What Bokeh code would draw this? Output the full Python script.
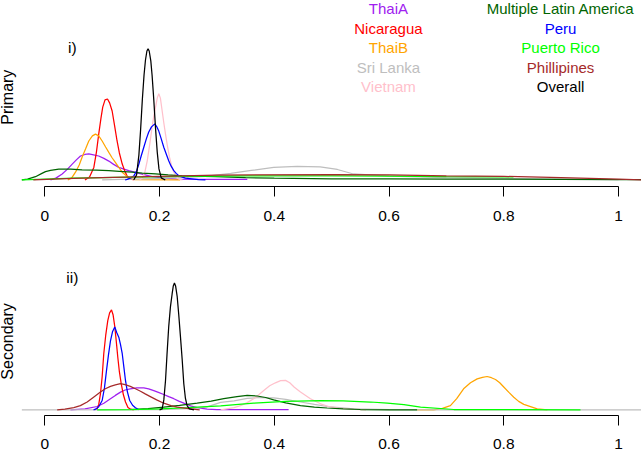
from math import pi
from bokeh.plotting import figure
from bokeh.layouts import column
from bokeh.models import Label, FixedTicker, Range1d
from bokeh.embed import file_html
from bokeh.resources import INLINE

# ---------------- data (density curves) ----------------
names = ["ThaiA", "Nicaragua", "ThaiB", "Sri Lanka", "Vietnam",
         "Multiple Latin America", "Peru", "Puerto Rico", "Phillipines", "Overall"]
colors = ["#A020F0", "#FF0000", "#FFA500", "#BEBEBE", "#FFC0CB",
          "#006400", "#0000FF", "#00FF00", "#A52A2A", "#000000"]

tick_values = [0, 0.2, 0.4, 0.6, 0.8, 1]
tick_labels = ["0", "0.2", "0.4", "0.6", "0.8", "1"]
panel_tags = ["i)", "ii)"]
panel_titles = ["Primary", "Secondary"]

# Primary panel
pri_thaiA_x = [0.010, 0.020, 0.0303, 0.040, 0.0478, 0.055, 0.0622, 0.070, 0.0767, 0.085, 0.094, 0.103, 0.1116, 0.120, 0.129, 0.138, 0.1464, 0.155, 0.164, 0.175, 0.187, 0.2046, 0.23, 0.27, 0.353]
pri_thaiA_y = [0, 0.7, 2, 3.7, 5.3, 6.7, 8, 8.5, 8.7, 8.4, 8, 7.2, 6.3, 5.2, 4.2, 3.6, 3.1, 2.7, 2.2, 1.7, 1.1, 0.7, 0.3, 0.2, 0.2]
pri_nica_x = [0.070, 0.078, 0.0855, 0.090, 0.094, 0.098, 0.101, 0.105, 0.1093, 0.113, 0.1174, 0.122, 0.126, 0.130, 0.135, 0.140, 0.1436, 0.148, 0.155]
pri_nica_y = [0, 1, 4.2, 9.3, 15.3, 20.7, 24.3, 26.7, 27, 25.7, 23, 17.7, 13, 9, 5.3, 2.7, 1.3, 0.5, 0]
pri_thaiB_x = [0.040, 0.047, 0.0535, 0.060, 0.065, 0.071, 0.0767, 0.083, 0.0884, 0.094, 0.100, 0.106, 0.1116, 0.117, 0.123, 0.129, 0.135, 0.146, 0.158, 0.236]
pri_thaiB_y = [0, 0.7, 2.6, 5, 7.6, 10.3, 13, 14.7, 15.3, 14.7, 13, 11, 9.2, 7.5, 5.9, 4.2, 2.6, 0.7, 0.1, 0]
pri_sri_x = [0.10, 0.2, 0.28, 0.324, 0.36, 0.399, 0.44, 0.48, 0.51, 0.538, 0.6, 0.7, 0.8, 0.9, 1.0]
pri_sri_y = [0, 0.5, 1.2, 2.2, 3.2, 4.2, 4.5, 4.4, 3.5, 2, 1.3, 0.8, 0.5, 0.3, 0.1]
pri_viet_x = [0.165, 0.170, 0.1745, 0.1785, 0.183, 0.187, 0.190, 0.193, 0.196, 0.1987, 0.2015, 0.2046, 0.2075, 0.2104, 0.214, 0.2174, 0.221, 0.2249, 0.229, 0.2336, 0.24]
pri_viet_y = [0, 0.7, 2.7, 6.3, 12, 17.6, 21.3, 24.2, 27.3, 28.8, 27.3, 23, 19, 15.3, 11, 7.6, 4.7, 2.6, 1.2, 0.3, 0]
pri_mla_x = [-0.04, -0.03, -0.0162, -0.005, 0.0012, 0.010, 0.0244, 0.045, 0.065, 0.09, 0.1116, 0.13, 0.1523, 0.17, 0.193, 0.215, 0.2395, 0.2975, 0.35, 0.4, 0.5, 0.6, 0.7, 0.8, 0.9, 1.0, 1.04]
pri_mla_y = [0, 0.3, 1.1, 2.2, 2.8, 3.2, 3.6, 3.6, 3.4, 3.3, 3.1, 2.9, 2.6, 2.3, 2, 1.7, 1.4, 1.1, 0.8, 0.6, 0.4, 0.4, 0.3, 0.3, 0.2, 0.1, 0.1]
pri_peru_x = [0.140, 0.1436, 0.150, 0.155, 0.160, 0.164, 0.168, 0.1726, 0.177, 0.181, 0.186, 0.1918, 0.195, 0.1987, 0.203, 0.2074, 0.212, 0.216, 0.220, 0.2249, 0.229, 0.2336, 0.245, 0.268, 0.28]
pri_peru_y = [0, 0.2, 0.7, 1.3, 3, 5.3, 8, 10.9, 13.7, 15.9, 17.7, 18.7, 17.8, 16.3, 13.7, 10.9, 8.5, 6.4, 4.7, 3.1, 2.2, 1.4, 0.6, 0.1, 0]
pri_pr_x = [-0.04, 0.0, 0.05, 0.123, 0.24, 0.35, 0.5, 0.6, 0.7, 0.817]
pri_pr_y = [0, 0.3, 0.6, 0.9, 1.2, 1.4, 1.4, 1.3, 1.1, 1.0]
pri_phil_x = [-0.02, 0.05, 0.1, 0.2, 0.3, 0.5, 0.6, 0.7, 0.8, 0.9, 1.0, 1.05]
pri_phil_y = [0, 0.5, 0.8, 1.2, 1.6, 1.8, 1.7, 1.4, 1.2, 0.8, 0.3, 0]
pri_all_x = [0.155, 0.160, 0.164, 0.167, 0.170, 0.173, 0.1755, 0.178, 0.180, 0.182, 0.1848, 0.187, 0.190, 0.193, 0.196, 0.199, 0.203, 0.21]
pri_all_y = [0, 1.7, 8.3, 16.7, 26.7, 35, 40, 43, 43.7, 43, 39.7, 35, 26.7, 17.3, 9.3, 3.7, 0.7, 0]

# Secondary panel
sec_thaiA_x = [0.0448, 0.07, 0.0913, 0.103, 0.1145, 0.123, 0.132, 0.140, 0.149, 0.16, 0.1726, 0.181, 0.19, 0.198, 0.2074, 0.216, 0.2249, 0.2335, 0.2423, 0.254, 0.2656, 0.283, 0.3, 0.425]
sec_thaiA_y = [0, 0.3, 1.1, 2.2, 3.7, 4.8, 5.9, 6.6, 7, 7.3, 7.3, 7, 6.4, 5.8, 5.1, 4.4, 3.7, 2.9, 2.2, 1.3, 0.7, 0.2, 0.1, 0.1]
sec_nica_x = [0.088, 0.0913, 0.094, 0.097, 0.100, 0.1028, 0.1063, 0.1098, 0.113, 0.1163, 0.119, 0.122, 0.1245, 0.1272, 0.130, 0.1332, 0.137, 0.1407, 0.145, 0.1494, 0.155]
sec_nica_y = [0, 0.3, 1.7, 5.3, 11, 18.7, 25, 29.7, 32.3, 33.3, 31.7, 27.7, 23, 17.6, 12.7, 8.7, 5, 2.6, 0.8, 0.2, 0]
sec_thaiB_x = [0.649, 0.678, 0.693, 0.707, 0.718, 0.730, 0.742, 0.7537, 0.763, 0.771, 0.7785, 0.7856, 0.793, 0.800, 0.809, 0.8175, 0.826, 0.835, 0.8583, 0.876]
sec_thaiB_y = [0, 0, 0.5, 1.4, 3.7, 7, 9, 10.3, 10.8, 11.1, 10.7, 10.1, 9, 7.6, 5.8, 4.2, 2.8, 1.8, 0.3, 0]
sec_sri_x = [-0.04, 0.2, 0.24, 0.26, 0.283, 0.3066, 0.33, 0.3528, 0.375, 0.399, 0.42, 0.4457, 0.47, 0.4922, 0.5386, 0.6, 0.712, 0.8, 1.04]
sec_sri_y = [0, 0.1, 0.3, 0.5, 1, 2.5, 3, 3.8, 4.1, 4, 3.5, 2.6, 1.8, 1.1, 0.3, 0.1, 0, 0, 0]
sec_viet_x = [0.3066, 0.33, 0.341, 0.352, 0.364, 0.373, 0.3817, 0.392, 0.402, 0.411, 0.4196, 0.427, 0.435, 0.4457, 0.463, 0.4806, 0.495, 0.5096, 0.53, 0.56]
sec_viet_y = [0, 0.7, 1.4, 2.3, 3.7, 5, 6.4, 8, 9, 9.7, 9.8, 9, 7.5, 5.9, 3.7, 2, 1.1, 0.6, 0.2, 0]
sec_mla_x = [0.149, 0.18, 0.2074, 0.235, 0.2656, 0.29, 0.312, 0.335, 0.3528, 0.37, 0.385, 0.399, 0.42, 0.4457, 0.47, 0.4922, 0.52, 0.55, 0.6, 0.649]
sec_mla_y = [0.1, 0.4, 0.9, 1.5, 2.2, 2.9, 3.7, 4.4, 4.8, 4.6, 4.1, 3.3, 2.3, 1.4, 0.9, 0.6, 0.3, 0.1, 0, 0]
sec_peru_x = [0.085, 0.0884, 0.094, 0.100, 0.104, 0.1075, 0.111, 0.1145, 0.118, 0.122, 0.1255, 0.129, 0.132, 0.135, 0.138, 0.1407, 0.144, 0.148, 0.153, 0.158, 0.164]
sec_peru_y = [0, 0.2, 1, 3.1, 7.3, 13, 18.3, 23, 26, 27.6, 25.7, 24.2, 21.7, 18.7, 14, 9.7, 6, 3.1, 1.5, 0.7, 0]
sec_pr_x = [0.0913, 0.15, 0.2, 0.25, 0.3066, 0.364, 0.42, 0.4806, 0.52, 0.5677, 0.597, 0.626, 0.655, 0.713, 0.8, 0.9338]
sec_pr_y = [0, 0.1, 0.3, 0.7, 1.3, 2.2, 2.8, 3.1, 3, 2.6, 2.2, 1.7, 0.9, 0.1, 0.05, 0]
sec_phil_x = [0.0216, 0.035, 0.0506, 0.062, 0.0739, 0.085, 0.097, 0.1055, 0.1145, 0.123, 0.132, 0.14, 0.149, 0.158, 0.1668, 0.175, 0.184, 0.195, 0.2074, 0.22, 0.2308, 0.254, 0.27]
sec_phil_y = [0, 0.2, 0.7, 1.4, 2.6, 4.2, 5.9, 7, 7.8, 8.3, 8.7, 8.4, 7.8, 7, 6.2, 5.3, 4.4, 3.3, 2.2, 1.4, 0.9, 0.3, 0]
sec_all_x = [0.200, 0.2046, 0.2075, 0.2104, 0.213, 0.216, 0.219, 0.222, 0.224, 0.226, 0.228, 0.2308, 0.2335, 0.2365, 0.2395, 0.2423, 0.245, 0.248, 0.252, 0.26]
sec_all_y = [0, 0.3, 3.3, 9.7, 18.3, 27.7, 34.3, 38.7, 41.3, 42.3, 41.3, 37.7, 31.7, 24.3, 16.7, 8.7, 4, 1.4, 0.3, 0]

primary = [(pri_thaiA_x, pri_thaiA_y), (pri_nica_x, pri_nica_y), (pri_thaiB_x, pri_thaiB_y),
           (pri_sri_x, pri_sri_y), (pri_viet_x, pri_viet_y), (pri_mla_x, pri_mla_y),
           (pri_peru_x, pri_peru_y), (pri_pr_x, pri_pr_y), (pri_phil_x, pri_phil_y),
           (pri_all_x, pri_all_y)]
secondary = [(sec_thaiA_x, sec_thaiA_y), (sec_nica_x, sec_nica_y), (sec_thaiB_x, sec_thaiB_y),
             (sec_sri_x, sec_sri_y), (sec_viet_x, sec_viet_y), (sec_mla_x, sec_mla_y),
             (sec_peru_x, sec_peru_y), (sec_pr_x, sec_pr_y), (sec_phil_x, sec_phil_y),
             (sec_all_x, sec_all_y)]

FONT = "Liberation Sans"
X0, X1 = -0.0772, 1.0401
LEGEND_ROWS = [57.0, 50.5, 44.0, 37.5, 31.0]
LEGEND_COLS = [0.599, 0.899]


def make_panel(curves, tag, title, title_y, height, y_lo, y_hi, border_bottom, standoff, legend):
    p = figure(width=641, height=height, x_range=Range1d(X0, X1), y_range=Range1d(y_lo, y_hi),
               output_backend="svg", toolbar_location=None, y_axis_location=None,
               min_border_left=0, min_border_right=0, min_border_top=0,
               min_border_bottom=border_bottom, background_fill_color="white",
               border_fill_color="white")
    p.outline_line_color = None
    p.grid.visible = False
    for (xs, ys), c in zip(curves, colors):
        p.line(xs, ys, line_color=c, line_width=1.25)
    ax = p.xaxis[0]
    ax.ticker = FixedTicker(ticks=tick_values)
    ax.major_label_overrides = {v: s for v, s in zip(tick_values, tick_labels)}
    ax.bounds = (0, 1)
    ax.axis_line_color = "black"
    ax.axis_line_width = 1
    ax.major_tick_line_color = "black"
    ax.major_tick_out = 10
    ax.major_tick_in = 0
    ax.minor_tick_line_color = None
    ax.major_label_standoff = standoff
    ax.major_label_text_font = FONT
    ax.major_label_text_font_size = "15.5px"
    ax.major_label_text_color = "black"

    p.add_layout(Label(x=0.048, y=44.1, text=tag, text_font=FONT, text_font_size="15.5px",
                       text_align="center", text_baseline="middle", text_color="black"))
    p.add_layout(Label(x=-0.065, y=title_y, text=title, angle=pi / 2, text_font=FONT,
                       text_font_size="16px", text_align="center", text_baseline="middle",
                       text_color="black"))
    if legend:
        for i, (n, c) in enumerate(zip(names, colors)):
            p.add_layout(Label(x=LEGEND_COLS[i // 5], y=LEGEND_ROWS[i % 5], text=n,
                               text_font=FONT, text_font_size="15px", text_align="center",
                               text_baseline="middle", text_color=c))
    return p


top = make_panel(primary, panel_tags[0], panel_titles[0], 27.6, 227, -2.17, 59.83, 41, 14, True)
bottom = make_panel(secondary, panel_tags[1], panel_titles[1], 22.8, 225, -1.9, 60.77, 37, 13, False)

layout = column(top, bottom, spacing=0)
open("out.html", "w").write(file_html(layout, INLINE))
